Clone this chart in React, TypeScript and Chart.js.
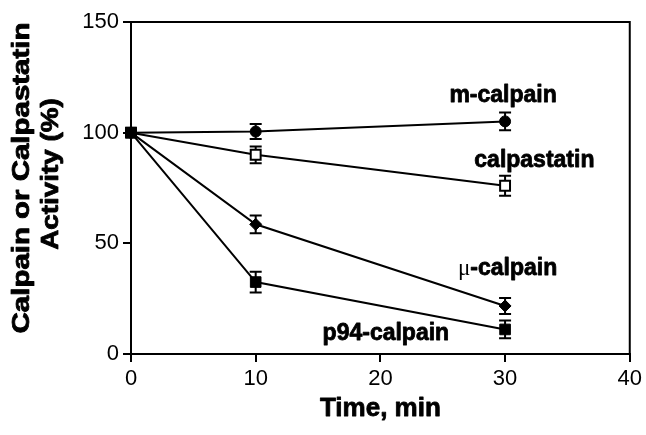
import React, { useEffect, useRef } from "react";
import { Chart, registerables } from "chart.js";

Chart.register(...registerables);

// ---- data ----
const TIME_MIN = [0, 10, 30];
const M_CALPAIN = [100, 100.5, 105.1];
const M_CALPAIN_SEM = [0, 3.4, 4.0];
const CALPASTATIN = [100, 90, 76];
const CALPASTATIN_SEM = [0, 3.8, 4.5];
const MU_CALPAIN = [100, 58.6, 21.7];
const MU_CALPAIN_SEM = [0, 4.0, 3.6];
const P94_CALPAIN = [100, 32.5, 11.1];
const P94_CALPAIN_SEM = [0, 4.7, 4.0];
const X_TICKS = [0, 10, 20, 30, 40];
const Y_TICKS = [0, 50, 100, 150];
const SERIES_NAMES = ["m-calpain", "calpastatin", "\u03bc-calpain", "p94-calpain"];
const X_TITLE = "Time, min";
const Y_TITLE = ["Calpain or Calpastatin", "Activity (%)"];

const FONT = '"Liberation Sans", Arial, Helvetica, sans-serif';
const SERIF = '"Liberation Serif", "DejaVu Serif", serif';

const pts = (ys: number[]) => TIME_MIN.map((x, i) => ({ x, y: ys[i] }));

// label anchors in data units (centre x, baseline y)
const LABEL_ANCHORS = [
  { x: 29.84, y: 113.9 },
  { x: 32.35, y: 84.3 },
  { x: 30.2, y: 35.6 },
  { x: 20.44, y: 6.3 },
];

function heavyText(ctx: CanvasRenderingContext2D, t: string, x: number, y: number) {
  ctx.fillText(t, x, y);
  ctx.strokeText(t, x, y);
}

const annotPlugin = {
  id: "annot",
  beforeDatasetsDraw(chart: any) {
    const ctx = chart.ctx;
    const ys = chart.scales.y;
    ctx.save();
    ctx.strokeStyle = "#000";
    ctx.lineWidth = 2;
    chart.data.datasets.forEach((ds: any, i: number) => {
      const meta = chart.getDatasetMeta(i);
      meta.data.forEach((pt: any, j: number) => {
        const e = ds.sem[j];
        if (!e) return;
        const v = ds.data[j].y;
        const y1 = ys.getPixelForValue(v + e);
        const y2 = ys.getPixelForValue(v - e);
        const x = pt.x;
        ctx.beginPath();
        ctx.moveTo(x, y1);
        ctx.lineTo(x, y2);
        ctx.moveTo(x - 6, y1);
        ctx.lineTo(x + 6, y1);
        ctx.moveTo(x - 6, y2);
        ctx.lineTo(x + 6, y2);
        ctx.stroke();
      });
    });
    ctx.restore();
  },
  afterDraw(chart: any) {
    const ctx = chart.ctx;
    const { left, right, top, bottom } = chart.chartArea;
    const xs = chart.scales.x;
    const ys = chart.scales.y;
    ctx.save();
    // frame top & right
    ctx.strokeStyle = "#000";
    ctx.lineWidth = 2;
    ctx.beginPath();
    ctx.moveTo(left - 1, top);
    ctx.lineTo(right, top);
    ctx.lineTo(right, bottom + 1);
    ctx.stroke();

    // series labels
    ctx.fillStyle = "#000";
    ctx.lineWidth = 0.8;
    ctx.lineJoin = "round";
    ctx.textBaseline = "alphabetic";
    SERIES_NAMES.forEach((name, i) => {
      const a = LABEL_ANCHORS[i];
      const cx = xs.getPixelForValue(a.x);
      const by = ys.getPixelForValue(a.y);
      if (name.startsWith("\u03bc")) {
        const mu = name[0];
        const rest = name.slice(1);
        ctx.font = `23px ${SERIF}`;
        const w1 = ctx.measureText(mu).width;
        ctx.font = `bold 23px ${FONT}`;
        const w2 = ctx.measureText(rest).width;
        const sx = cx - (w1 + w2) / 2;
        ctx.textAlign = "left";
        ctx.font = `23px ${SERIF}`;
        ctx.fillText(mu, sx, by);
        ctx.font = `bold 23px ${FONT}`;
        heavyText(ctx, rest, sx + w1, by);
      } else {
        ctx.font = `bold 23px ${FONT}`;
        ctx.textAlign = "center";
        heavyText(ctx, name, cx, by);
      }
    });

    // x title
    ctx.font = `bold 26px ${FONT}`;
    ctx.textAlign = "center";
    heavyText(ctx, X_TITLE, (left + right) / 2, 416);

    // y title (two lines, rotated)
    const yCentres = [178, 174];
    const baselines = [29, 58];
    const stretch = [1.28, 1.21];
    Y_TITLE.forEach((line, i) => {
      ctx.save();
      ctx.translate(0, yCentres[i]);
      ctx.rotate(-Math.PI / 2);
      ctx.scale(stretch[i], 1);
      ctx.font = `bold 23px ${FONT}`;
      ctx.textAlign = "center";
      heavyText(ctx, line, 0, baselines[i]);
      ctx.restore();
    });
    ctx.restore();
  },
};

export default function App() {
  const ref = useRef<HTMLCanvasElement>(null);
  useEffect(() => {
    document.body.style.margin = "0";
    const common = {
      borderColor: "#000",
      borderWidth: 2,
      pointBorderColor: "#000",
      pointBorderWidth: 1,
      clip: false,
      tension: 0,
    };
    const chart = new Chart(ref.current as HTMLCanvasElement, {
      type: "line",
      data: {
        datasets: [
          {
            ...common,
            label: SERIES_NAMES[3],
            data: pts(P94_CALPAIN),
            sem: P94_CALPAIN_SEM,
            pointStyle: "rect",
            pointRadius: 7.5,
            pointBackgroundColor: "#000",
          },
          {
            ...common,
            label: SERIES_NAMES[2],
            data: pts(MU_CALPAIN),
            sem: MU_CALPAIN_SEM,
            pointStyle: "rectRot",
            pointRadius: 6,
            pointBackgroundColor: "#000",
          },
          {
            ...common,
            label: SERIES_NAMES[1],
            data: pts(CALPASTATIN),
            sem: CALPASTATIN_SEM,
            pointStyle: "rect",
            pointRadius: 7,
            pointBorderWidth: 2,
            pointBackgroundColor: "#fff",
          },
          {
            ...common,
            label: SERIES_NAMES[0],
            data: pts(M_CALPAIN),
            sem: M_CALPAIN_SEM,
            pointStyle: "circle",
            pointRadius: 5.5,
            pointBackgroundColor: "#000",
          },
        ] as any,
      },
      options: {
        animation: false,
        responsive: true,
        maintainAspectRatio: false,
        devicePixelRatio: 1,
        layout: { padding: { left: 0, top: 22, right: 13, bottom: 0 } },
        plugins: { legend: { display: false }, tooltip: { enabled: false } },
        scales: {
          x: {
            type: "linear",
            min: 0,
            max: 40,
            afterBuildTicks: (s: any) => {
              s.ticks = X_TICKS.map((v) => ({ value: v }));
            },
            afterFit: (s: any) => {
              s.height = 81;
            },
            grid: {
              display: true,
              drawOnChartArea: false,
              drawTicks: true,
              tickLength: 8,
              color: "#000",
              lineWidth: 2,
            },
            border: { display: true, color: "#000", width: 2 },
            ticks: {
              color: "#000",
              padding: 4,
              maxRotation: 0,
              font: { family: FONT, size: 22 },
            },
          },
          y: {
            type: "linear",
            min: 0,
            max: 150,
            afterBuildTicks: (s: any) => {
              s.ticks = Y_TICKS.map((v) => ({ value: v }));
            },
            afterFit: (s: any) => {
              s.width = 131;
            },
            grid: {
              display: true,
              drawOnChartArea: false,
              drawTicks: true,
              tickLength: 8,
              color: "#000",
              lineWidth: 2,
            },
            border: { display: true, color: "#000", width: 2 },
            ticks: {
              color: "#000",
              padding: 4,
              font: { family: FONT, size: 22 },
            },
          },
        },
      } as any,
      plugins: [annotPlugin],
    });
    return () => chart.destroy();
  }, []);
  return (
    <div style={{ position: "relative", width: 646, height: 435 }}>
      <canvas ref={ref} />
    </div>
  );
}
